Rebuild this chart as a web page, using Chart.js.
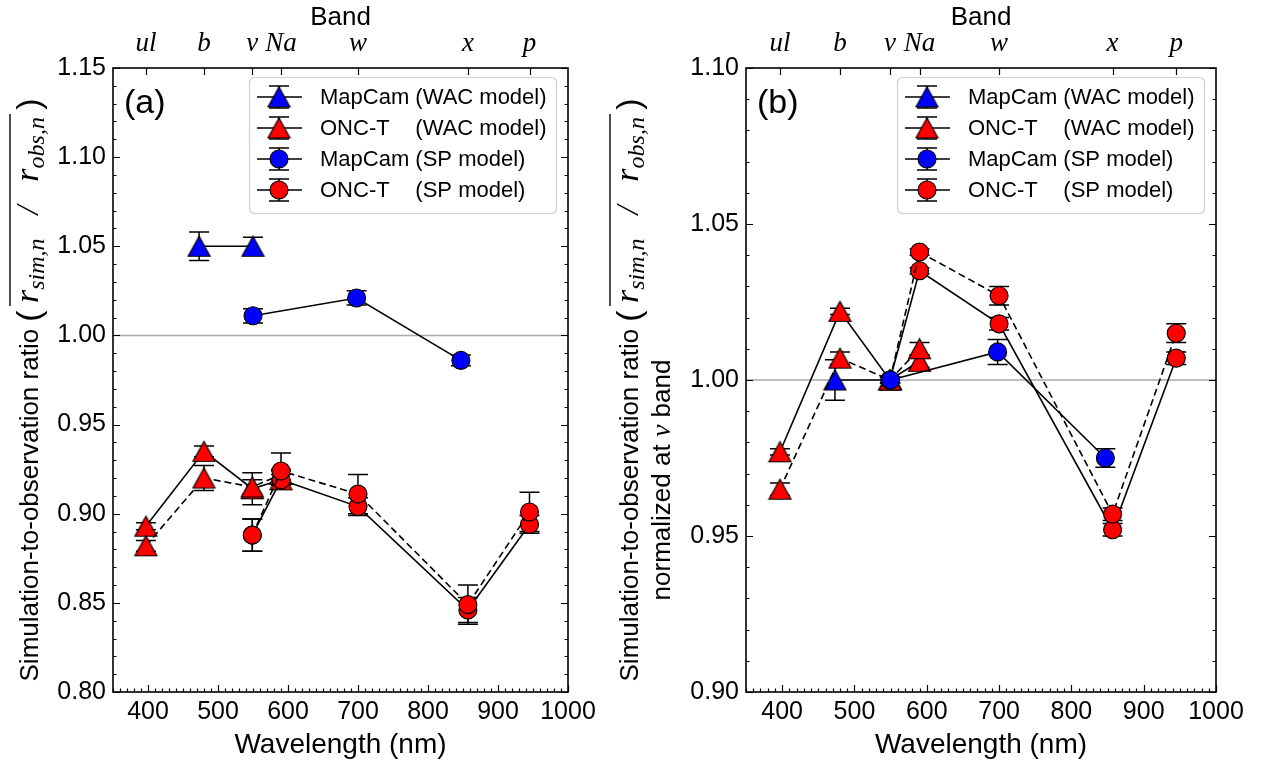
<!DOCTYPE html>
<html>
<head>
<meta charset="utf-8">
<script src="https://cdn.jsdelivr.net/npm/chart.js@4.4.1/dist/chart.umd.min.js"></script>
<style>
    html, body { margin: 0; padding: 0; background: #fff; }
    #wrap { position: relative; width: 1263px; height: 763px; }
    canvas { position: absolute; top: 0; }
</style>
</head>
<body>
<div id="wrap">
    <canvas id="chart-a" width="631" height="763" style="left:0;width:631px;height:763px"></canvas>
    <canvas id="chart-b" width="673" height="763" style="left:590px;width:673px;height:763px"></canvas>
</div>
<script>
// ---- data ----
const BAND_NAMES = ['ul', 'b', 'v', 'Na', 'w', 'x', 'p'];
const BAND_WL = [397, 480, 549, 590, 700, 857, 945];
const X_TICKS = [400, 500, 600, 700, 800, 900, 1000];

const MC_WAC_WL = [473, 550];
const ONC_WAC_WL = [397, 480, 549, 590];
const MC_SP_WL = [550, 698, 847];
const ONC_SP_WL = [549, 590, 700, 857, 945];

// panel (a): ratio
const A_Y_TICKS = [0.80, 0.85, 0.90, 0.95, 1.00, 1.05, 1.10, 1.15];
const A_MC_WAC = [1.050, 1.050];
const A_MC_WAC_ERR = [0.008, 0.005];
const A_ONC_WAC_1 = [0.893, 0.935, 0.914, 0.919];
const A_ONC_WAC_1_ERR = [0.002, 0.003, 0.009, 0.003];
const A_ONC_WAC_2 = [0.882, 0.920, 0.915, 0.922];
const A_ONC_WAC_2_ERR = [0.003, 0.007, 0.004, 0.003];
const A_MC_SP = [1.011, 1.021, 0.986];
const A_MC_SP_ERR = [0.004, 0.004, 0.003];
const A_ONC_SP_1 = [0.888, 0.919, 0.904, 0.846, 0.894];
const A_ONC_SP_1_ERR = [0.009, 0.005, 0.005, 0.007, 0.005];
const A_ONC_SP_2 = [0.888, 0.924, 0.911, 0.849, 0.901];
const A_ONC_SP_2_ERR = [0.009, 0.010, 0.011, 0.011, 0.011];

// panel (b): ratio normalized at v band
const B_Y_TICKS = [0.90, 0.95, 1.00, 1.05, 1.10];
const B_MC_WAC = [1.000, 1.000];
const B_MC_WAC_ERR = [0.0065, 0.001];
const B_ONC_WAC_1 = [0.977, 1.022, 1.000, 1.006];
const B_ONC_WAC_1_ERR = [0.001, 0.001, 0.001, 0.002];
const B_ONC_WAC_2 = [0.965, 1.007, 1.000, 1.010];
const B_ONC_WAC_2_ERR = [0.002, 0.002, 0.001, 0.002];
const B_MC_SP = [1.000, 1.009, 0.975];
const B_MC_SP_ERR = [0, 0.004, 0.003];
const B_ONC_SP_1 = [1.000, 1.035, 1.018, 0.952, 1.007];
const B_ONC_SP_1_ERR = [0, 0.001, 0.002, 0.002, 0.002];
const B_ONC_SP_2 = [1.000, 1.041, 1.027, 0.957, 1.015];
const B_ONC_SP_2_ERR = [0, 0.001, 0.003, 0.002, 0.003];

const LEGEND_NAMES = ['MapCam', 'ONC-T', 'MapCam', 'ONC-T'];
const LEGEND_MODELS = ['(WAC model)', '(WAC model)', '(SP model)', '(SP model)'];

// ---- styling ----
const SANS = '"Liberation Sans", Arial, sans-serif';
const SERIF = '"Liberation Serif", "Times New Roman", serif';
const RED = '#ff0000';
const BLUE = '#0000ff';
const CAP = 10;

function triangleMarker(fill) {
    const c = document.createElement('canvas');
    c.width = 25; c.height = 23;
    const g = c.getContext('2d');
    g.beginPath();
    g.moveTo(12.5, 1.5); g.lineTo(1.5, 21.5); g.lineTo(23.5, 21.5); g.closePath();
    g.fillStyle = fill; g.fill();
    g.lineWidth = 1.2; g.strokeStyle = '#000'; g.stroke();
    return c;
}
const TRI_RED = triangleMarker(RED);
const TRI_BLUE = triangleMarker(BLUE);

function series(wl, vals, errs, marker, color, dashed, order) {
    return {
        data: wl.map((x, i) => ({ x, y: vals[i] })),
        errs,
        showLine: true,
        borderColor: '#000',
        borderWidth: 1.6,
        borderDash: dashed ? [7, 4] : [],
        pointStyle: marker === 'tri' ? (color === BLUE ? TRI_BLUE : TRI_RED) : 'circle',
        pointRadius: 9,
        pointBackgroundColor: color,
        pointBorderColor: '#000',
        pointBorderWidth: 1.1,
        order
    };
}

// draws a run of text pieces rotated -90deg, centred on cy, baseline at bx
function drawRotated(ctx, parts, bx, cy) {
    ctx.save();
    ctx.translate(bx, cy);
    ctx.rotate(-Math.PI / 2);
    ctx.textBaseline = 'alphabetic';
    ctx.textAlign = 'left';
    let total = 0;
    parts.forEach(p => { ctx.font = p.font; p.w = ctx.measureText(p.t).width; total += p.w; });
    let x = -total / 2, overStart = null;
    parts.forEach(p => {
        ctx.font = p.font;
        ctx.fillStyle = '#000';
        ctx.fillText(p.t, x, p.dy || 0);
        if (p.over === 'start') overStart = x - 3;
        if (p.over === 'end') {
            ctx.lineWidth = 1.4;
            ctx.beginPath();
            ctx.moveTo(overStart, -28); ctx.lineTo(x + p.w + 3, -28);
            ctx.stroke();
        }
        x += p.w;
    });
    ctx.restore();
}

const RATIO_PARTS = [
    { t: 'Simulation-to-observation ratio ', font: `26px ${SANS}` },
    { t: '(', font: `34px ${SANS}`, dy: 2 },
    { t: ' ', font: `26px ${SANS}` },
    { t: 'r', font: `italic 34px ${SERIF}`, over: 'start' },
    { t: 'sim,n', font: `italic 24px ${SERIF}`, dy: 6 },
    { t: '   /   ', font: `italic 32px ${SERIF}` },
    { t: 'r', font: `italic 34px ${SERIF}` },
    { t: 'obs,n', font: `italic 24px ${SERIF}`, dy: 6, over: 'end' },
    { t: ' ', font: `26px ${SANS}` },
    { t: ')', font: `34px ${SANS}`, dy: 2 }
];
const NORM_PARTS = [
    { t: 'normalized at ', font: `26px ${SANS}` },
    { t: 'v', font: `italic 28px ${SERIF}` },
    { t: ' band', font: `26px ${SANS}` }
];

function makeDecor(spec) {
    return {
        id: 'decor',
        beforeDatasetsDraw(chart) {
            const { ctx, chartArea: ca, scales: { x, y } } = chart;
            ctx.save();
            // reference line at 1.00
            const y1 = y.getPixelForValue(1.0);
            ctx.strokeStyle = '#a8a8a8';
            ctx.lineWidth = 1.6;
            ctx.beginPath(); ctx.moveTo(ca.left, y1); ctx.lineTo(ca.right, y1); ctx.stroke();
            // error bars
            ctx.strokeStyle = '#000';
            ctx.lineWidth = 1.5;
            chart.data.datasets.forEach((ds, i) => {
                chart.getDatasetMeta(i).data.forEach((pt, j) => {
                    const e = ds.errs[j];
                    if (!e) return;
                    const v = ds.data[j].y;
                    const yt = y.getPixelForValue(v + e);
                    const yb = y.getPixelForValue(v - e);
                    ctx.beginPath();
                    ctx.moveTo(pt.x, yt); ctx.lineTo(pt.x, yb);
                    ctx.moveTo(pt.x - CAP, yt); ctx.lineTo(pt.x + CAP, yt);
                    ctx.moveTo(pt.x - CAP, yb); ctx.lineTo(pt.x + CAP, yb);
                    ctx.stroke();
                });
            });
            ctx.restore();
        },
        afterDraw(chart) {
            const { ctx, chartArea: ca, scales: { x, y } } = chart;
            ctx.save();
            ctx.strokeStyle = '#000';
            // inward ticks, matplotlib style
            ctx.lineWidth = 1.2;
            ctx.beginPath();
            for (let v = 350; v <= 1000; v += 10) {
                const px = Math.round(x.getPixelForValue(v)) + 0.5;
                const len = v % 100 === 0 ? 7 : 3.5;
                ctx.moveTo(px, ca.bottom); ctx.lineTo(px, ca.bottom - len);
            }
            BAND_WL.forEach(w => {
                const px = Math.round(x.getPixelForValue(w)) + 0.5;
                ctx.moveTo(px, ca.top); ctx.lineTo(px, ca.top + 7);
            });
            const yMin = Math.round(y.min * 100), yMax = Math.round(y.max * 100);
            for (let k = yMin; k <= yMax; k++) {
                const py = Math.round(y.getPixelForValue(k / 100)) + 0.5;
                const len = k % 5 === 0 ? 7 : 3.5;
                ctx.moveTo(ca.left, py); ctx.lineTo(ca.left + len, py);
                ctx.moveTo(ca.right, py); ctx.lineTo(ca.right - len, py);
            }
            ctx.stroke();
            // frame
            ctx.lineWidth = 1.6;
            ctx.strokeRect(ca.left, ca.top, ca.right - ca.left, ca.bottom - ca.top);

            // panel label
            ctx.fillStyle = '#000';
            ctx.font = `34px ${SANS}`;
            ctx.textBaseline = 'alphabetic';
            ctx.fillText(spec.label, ca.left + 11, ca.top + 45);

            // legend
            const bw = 307, bh = 136;
            const bx = ca.right - 12 - bw, by = ca.top + 9;
            ctx.beginPath();
            ctx.roundRect(bx + 0.5, by + 0.5, bw, bh, 5);
            ctx.fillStyle = 'rgba(255,255,255,0.8)';
            ctx.fill();
            ctx.strokeStyle = '#d0d0d0';
            ctx.lineWidth = 1.2;
            ctx.stroke();
            ctx.font = `22px ${SANS}`;
            const modelX = bx + 71 + ctx.measureText('MapCam ').width;
            const markers = ['tri', 'tri', 'circle', 'circle'];
            const fills = [BLUE, RED, BLUE, RED];
            for (let i = 0; i < 4; i++) {
                const ry = by + 20 + 31 * i;
                const mx = bx + 30;
                ctx.strokeStyle = '#000';
                ctx.lineWidth = 1.5;
                ctx.beginPath();
                ctx.moveTo(bx + 8, ry); ctx.lineTo(bx + 53, ry);
                ctx.moveTo(mx, ry - 11); ctx.lineTo(mx, ry + 11);
                ctx.moveTo(mx - CAP, ry - 11); ctx.lineTo(mx + CAP, ry - 11);
                ctx.moveTo(mx - CAP, ry + 11); ctx.lineTo(mx + CAP, ry + 11);
                ctx.stroke();
                if (markers[i] === 'tri') {
                    const img = fills[i] === BLUE ? TRI_BLUE : TRI_RED;
                    ctx.drawImage(img, mx - img.width / 2, ry - img.height / 2);
                } else {
                    ctx.beginPath();
                    ctx.arc(mx, ry, 9, 0, Math.PI * 2);
                    ctx.fillStyle = fills[i]; ctx.fill();
                    ctx.lineWidth = 1.1; ctx.stroke();
                }
                ctx.fillStyle = '#000';
                ctx.font = `22px ${SANS}`;
                ctx.textBaseline = 'middle';
                ctx.fillText(LEGEND_NAMES[i], bx + 71, ry + 1);
                ctx.fillText(LEGEND_MODELS[i], modelX, ry + 1);
            }

            // y axis title
            const cy = (ca.top + ca.bottom) / 2 + 10;
            spec.titles.forEach(t => drawRotated(ctx, t.parts, t.x, cy + (t.shift || 0)));
            ctx.restore();
        }
    };
}

function makeChart(id, spec) {
    const d = spec.data;
    const datasets = [
        series(MC_WAC_WL, d.mcWac, d.mcWacErr, 'tri', BLUE, false, 6),
        series(ONC_WAC_WL, d.oncWac1, d.oncWac1Err, 'tri', RED, false, 5),
        series(ONC_WAC_WL, d.oncWac2, d.oncWac2Err, 'tri', RED, true, 4),
        series(ONC_SP_WL, d.oncSp1, d.oncSp1Err, 'circle', RED, false, 3),
        series(ONC_SP_WL, d.oncSp2, d.oncSp2Err, 'circle', RED, true, 2),
        series(MC_SP_WL, d.mcSp, d.mcSpErr, 'circle', BLUE, false, 1)
    ];
    const tickFont = { family: SANS, size: 25 };
    const noGrid = { display: false, drawTicks: false };
    return new Chart(document.getElementById(id), {
        type: 'scatter',
        data: { datasets },
        options: {
            responsive: false,
            animation: false,
            events: [],
            layout: { padding: { left: 0, top: 0, bottom: 0, right: spec.padRight } },
            plugins: { legend: { display: false }, tooltip: { enabled: false } },
            scales: {
                x: {
                    type: 'linear', position: 'bottom', min: 350, max: 1000,
                    afterBuildTicks: s => { s.ticks = X_TICKS.map(v => ({ value: v })); },
                    afterFit: s => { s.height = 71; },
                    grid: noGrid, border: { display: false },
                    ticks: { color: '#000', font: tickFont, padding: 5, maxRotation: 0, autoSkip: false, callback: v => String(v) },
                    title: { display: true, text: 'Wavelength (nm)', color: '#000', font: { family: SANS, size: 28 }, padding: { top: 0, bottom: 1 } }
                },
                xTop: {
                    type: 'linear', position: 'top', min: 350, max: 1000,
                    afterBuildTicks: s => { s.ticks = BAND_WL.map(v => ({ value: v })); },
                    afterFit: s => { s.height = 68; },
                    grid: noGrid, border: { display: false },
                    ticks: {
                        color: '#000', padding: 8, maxRotation: 0, autoSkip: false,
                        font: { family: SERIF, size: 27, style: 'italic' },
                        callback: (v, i) => BAND_NAMES[i]
                    },
                    title: { display: true, text: 'Band', color: '#000', font: { family: SANS, size: 26 }, padding: { top: 2, bottom: 0 } }
                },
                y: {
                    type: 'linear', position: 'left', min: spec.yTicks[0], max: spec.yTicks[spec.yTicks.length - 1],
                    afterBuildTicks: s => { s.ticks = spec.yTicks.map(v => ({ value: v })); },
                    afterFit: s => { s.width = spec.left; },
                    grid: noGrid, border: { display: false },
                    ticks: { color: '#000', font: tickFont, padding: 7, callback: v => v.toFixed(2) }
                }
            }
        },
        plugins: [makeDecor(spec)]
    });
}

makeChart('chart-a', {
    label: '(a)', left: 113, padRight: 63, yTicks: A_Y_TICKS,
    titles: [{ x: 38, parts: RATIO_PARTS }],
    data: {
        mcWac: A_MC_WAC, mcWacErr: A_MC_WAC_ERR,
        oncWac1: A_ONC_WAC_1, oncWac1Err: A_ONC_WAC_1_ERR,
        oncWac2: A_ONC_WAC_2, oncWac2Err: A_ONC_WAC_2_ERR,
        mcSp: A_MC_SP, mcSpErr: A_MC_SP_ERR,
        oncSp1: A_ONC_SP_1, oncSp1Err: A_ONC_SP_1_ERR,
        oncSp2: A_ONC_SP_2, oncSp2Err: A_ONC_SP_2_ERR
    }
});

// canvas b starts at page x 590
makeChart('chart-b', {
    label: '(b)', left: 156, padRight: 47, yTicks: B_Y_TICKS,
    titles: [{ x: 48, parts: RATIO_PARTS }, { x: 80, parts: NORM_PARTS, shift: 90 }],
    data: {
        mcWac: B_MC_WAC, mcWacErr: B_MC_WAC_ERR,
        oncWac1: B_ONC_WAC_1, oncWac1Err: B_ONC_WAC_1_ERR,
        oncWac2: B_ONC_WAC_2, oncWac2Err: B_ONC_WAC_2_ERR,
        mcSp: B_MC_SP, mcSpErr: B_MC_SP_ERR,
        oncSp1: B_ONC_SP_1, oncSp1Err: B_ONC_SP_1_ERR,
        oncSp2: B_ONC_SP_2, oncSp2Err: B_ONC_SP_2_ERR
    }
});
</script>
</body>
</html>
